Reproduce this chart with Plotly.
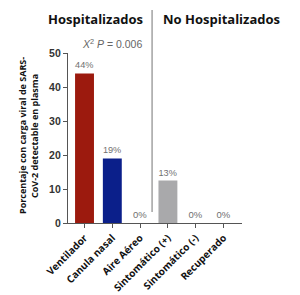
import plotly.graph_objects as go

categories = ["Ventilador", "Canula nasal", "Aire Aéreo", "Sintomático (+)", "Sintomático (-)", "Recuperado"]
values = [44, 19, 0, 12.5, 0, 0]
labels = ["44%", "19%", "0%", "13%", "0%", "0%"]
colors = ["#9C1A0E", "#0B1F8A", "#A9A9AB", "#A9A9AB", "#A9A9AB", "#A9A9AB"]
yticks = [0, 10, 20, 30, 40, 50]
group_titles = ["Hospitalizados", "No Hospitalizados"]
stat_text = "<i>X</i><sup>2</sup> <i>P</i> = 0.006"
ytitle_lines = ["Porcentaje con carga viral de SARS-", "CoV-2 detectable en plasma"]

fig = go.Figure()
fig.add_trace(go.Bar(
    x=list(range(len(categories))), y=values, text=labels, textposition="outside",
    textfont=dict(family="Liberation Sans, Arial", size=9.5, color="#707070"),
    marker=dict(color=colors, line=dict(width=0)), width=0.68, cliponaxis=False,
))

fig.update_layout(
    width=300, height=295, margin=dict(l=68, r=58, t=53, b=72, autoexpand=False),
    plot_bgcolor="white", paper_bgcolor="white", showlegend=False,
    xaxis=dict(range=[-0.594, 5.665], tickmode="array", tickvals=list(range(len(categories))),
               ticktext=["<b>%s</b>" % c for c in categories], tickangle=-45, showline=True,
               linecolor="#555555", linewidth=1.3,
               ticks="outside", ticklen=4, tickcolor="#555555", showgrid=False, zeroline=False,
               automargin=False,
               tickfont=dict(family="Open Sans", size=10, color="#111111")),
    yaxis=dict(range=[0, 50], tickvals=yticks, ticktext=["<b>%d</b>" % t for t in yticks],
               showline=True, linecolor="#555555", linewidth=1.3,
               ticks="outside", ticklen=4, tickcolor="#555555", showgrid=False, zeroline=False,
               automargin=False,
               tickfont=dict(family="Liberation Sans, Arial", size=10.5, color="#333333")),
)

fig.add_shape(type="line", xref="x", yref="paper", x0=2.43, x1=2.43, y0=0.065, y1=1.253,
              line=dict(color="#8A8A8A", width=1.2))

fig.add_annotation(x=0.38, y=1.2, xref="x", yref="paper", text="<b>%s</b>" % group_titles[0],
                   showarrow=False, xanchor="center", yanchor="middle",
                   font=dict(family="Open Sans", size=13, color="#111111"))
fig.add_annotation(x=4.91, y=1.2, xref="x", yref="paper", text="<b>%s</b>" % group_titles[1],
                   showarrow=False, xanchor="center", yanchor="middle",
                   font=dict(family="Open Sans", size=13, color="#111111"))
fig.add_annotation(x=1.0, y=1.053, xref="x", yref="paper", text=stat_text, showarrow=False,
                   xanchor="center", yanchor="middle",
                   font=dict(family="Liberation Sans, Arial", size=10.5, color="#666666"))
for i, line in enumerate(ytitle_lines):
    px = 23 + 12 * i
    fig.add_annotation(x=(px - 68) / 174, y=0.512, xref="paper", yref="paper",
                       text="<b>%s</b>" % line, showarrow=False, textangle=-90,
                       xanchor="center", yanchor="middle",
                       font=dict(family="Open Sans", size=9, color="#111111"))

fig.write_html("out.html")
